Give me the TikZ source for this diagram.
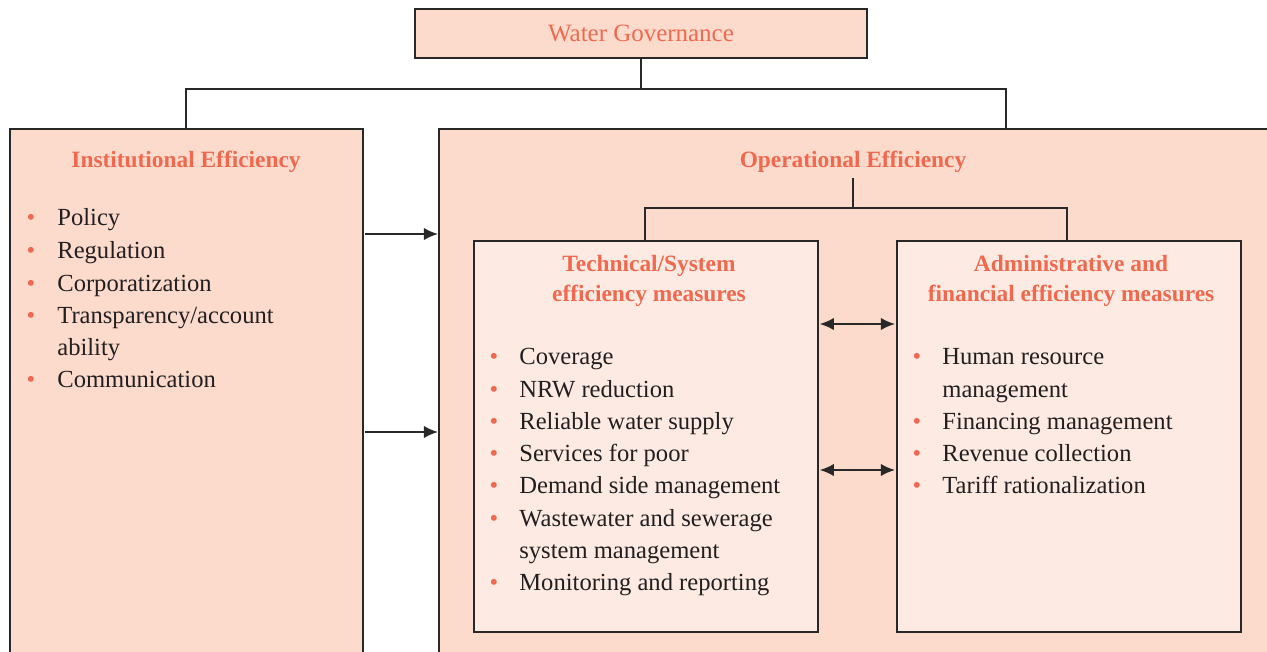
\documentclass[tikz,border=0pt]{standalone}
\usepackage{fontspec}
\setmainfont{Liberation Serif}
\usetikzlibrary{arrows.meta,calc}
\definecolor{outerfill}{RGB}{252,219,205}
\definecolor{innerfill}{RGB}{253,235,227}
\definecolor{titlecol}{RGB}{240,104,78}
\definecolor{bodycol}{RGB}{35,31,32}
\definecolor{linecol}{RGB}{40,40,40}
\tikzset{
  box/.style={draw=linecol,line width=1pt,anchor=north west,inner sep=0pt},
  outerbox/.style={box,fill=outerfill},
  innerbox/.style={box,fill=innerfill},
  ttl/.style={text=titlecol,font=\fontsize{13.3pt}{17.5pt}\selectfont\bfseries,align=center,inner sep=0pt},
  wgttl/.style={text=titlecol,font=\fontsize{14.2pt}{17pt}\selectfont,inner sep=0pt},
  item/.style={text=bodycol,font=\fontsize{14pt}{17pt}\selectfont,anchor=base west,inner sep=0pt},
  bul/.style={text=titlecol,font=\fontsize{14pt}{17pt}\selectfont,anchor=base,inner sep=0pt},
  conn/.style={draw=linecol,line width=1pt},
  arr/.style={conn,-{Latex[length=8pt,width=7pt]}},
  darr/.style={conn,{Latex[length=8pt,width=7pt]}-{Latex[length=8pt,width=7pt]}},
}
\newcommand{\bitem}[4]{% x_bullet, x_text, y, text
  \node[bul] at (#1,#3+7) {\textbullet};
  \node[item] at (#2,#3+7) {#4};}
\newcommand{\citem}[3]{% x_text, y, text (continuation)
  \node[item] at (#1,#2+7) {#3};}
\begin{document}
\begin{tikzpicture}[x=0.02cm,y=-0.02cm]
\useasboundingbox (0,0) rectangle (1267,652);
\clip (0,0) rectangle (1267,652);
% boxes
\node[outerbox,minimum width={452*0.02cm},minimum height={49*0.02cm}] (wg) at (414,8) {};
\node[wgttl] (wgt) at (641,33) {Water Governance};
\node[outerbox,minimum width={353*0.02cm},minimum height={540*0.02cm}] (ie) at (9,128) {};
\node[outerbox,minimum width={850*0.02cm},minimum height={540*0.02cm}] (oe) at (438,128) {};
\node[innerbox,minimum width={344*0.02cm},minimum height={391*0.02cm}] (ts) at (473,240) {};
\node[innerbox,minimum width={344*0.02cm},minimum height={391*0.02cm}] (af) at (896,240) {};
% titles
\node[ttl] (iet) at (186,162) {Institutional Efficiency};
\node[ttl] (oet) at (853,162) {Operational Efficiency};
\node[ttl] (tst) at (649,281) {Technical/System\\efficiency measures};
\node[ttl] (aft) at (1071,281) {Administrative and\\financial efficiency measures};
% top connectors
\coordinate (jl) at (186,89);
\coordinate (jr) at (1006,89);
\draw[conn] (wg.south) -- (wg.south |- jl);
\draw[conn] (ie.north -| jl) -- (jl) -- (jr) -- (oe.north -| jr);
\coordinate (kt) at (853,178);
\coordinate (kc) at (853,208);
\coordinate (kl) at (645,208);
\coordinate (kr) at (1067,208);
\draw[conn] (kt) -- (kc);
\draw[conn] (ts.north -| kl) -- (kl) -- (kr) -- (af.north -| kr);
% arrows
\coordinate (a1s) at (365,234);
\coordinate (a2s) at (365,432);
\draw[arr] (a1s) -- (oe.west |- a1s);
\draw[arr] (a2s) -- (oe.west |- a2s);
\coordinate (d1) at (0,324);
\coordinate (d2) at (0,470);
\draw[darr] ([xshift=0.02cm]ts.east |- d1) -- ([xshift=-0.02cm]af.west |- d1);
\draw[darr] ([xshift=0.02cm]ts.east |- d2) -- ([xshift=-0.02cm]af.west |- d2);
% left list
\bitem{31}{57}{218}{Policy}
\bitem{31}{57}{251}{Regulation}
\bitem{31}{57}{284}{Corporatization}
\bitem{31}{57}{316}{Transparency/account}
\citem{57}{348}{ability}
\bitem{31}{57}{380}{Communication}
% technical list
\bitem{494}{519}{357}{Coverage}
\bitem{494}{519}{390}{NRW reduction}
\bitem{494}{519}{422}{Reliable water supply}
\bitem{494}{519}{454}{Services for poor}
\bitem{494}{519}{486}{Demand side management}
\bitem{494}{519}{519}{Wastewater and sewerage}
\citem{519}{551}{system management}
\bitem{494}{519}{583}{Monitoring and reporting}
% admin list
\bitem{917}{942}{357}{Human resource}
\citem{942}{390}{management}
\bitem{917}{942}{422}{Financing management}
\bitem{917}{942}{454}{Revenue collection}
\bitem{917}{942}{486}{Tariff rationalization}
\end{tikzpicture}
\end{document}
